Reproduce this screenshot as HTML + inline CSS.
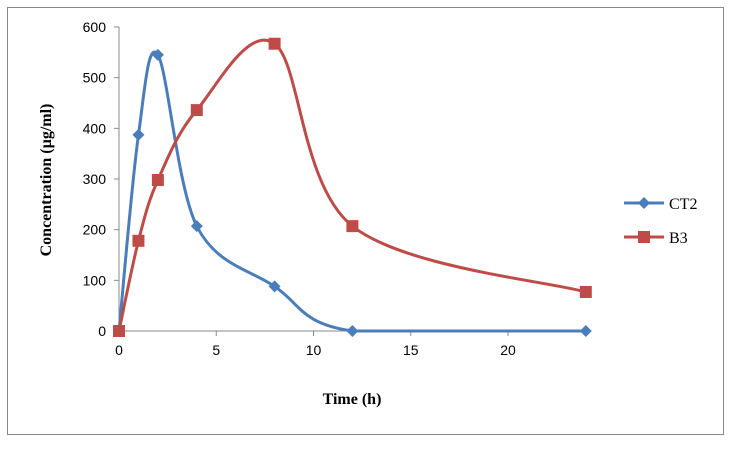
<!DOCTYPE html>
<html><head><meta charset="utf-8"><style>
body{margin:0;background:#fff;}
svg text{font-family:"Liberation Sans",sans-serif;}
</style></head><body>
<svg width="733" height="444">
<rect x="7.5" y="7.5" width="716" height="427" fill="#fff" stroke="#888"/>
<g id="axes"></g>
<g id="series"></g>
<text x="352" y="404" text-anchor="middle" font-size="16" font-weight="bold" style="font-family:'Liberation Serif',serif">Time (h)</text>
<text transform="translate(51,180) rotate(-90)" text-anchor="middle" font-size="16" font-weight="bold" style="font-family:'Liberation Serif',serif">Concentration (µg/ml)</text>
<g>
<g><line x1="624" y1="203" x2="664" y2="203" stroke="#4A7EBB" stroke-width="3"/><path d="M644 197 L650 203 L644 209 L638 203Z" fill="#4A7EBB"/><text x="669" y="209" font-size="16" style="font-family:'Liberation Serif',serif">CT2</text></g>
<g><line x1="624" y1="237" x2="664" y2="237" stroke="#BE4B48" stroke-width="3"/><rect x="638" y="231" width="12" height="12" fill="#BE4B48"/><text x="669" y="243" font-size="16" style="font-family:'Liberation Serif',serif">B3</text></g>
</g>
</svg>
<script>
const times=[0,1,2,4,8,12,24];
const ct2=[0,387,545,207,88,0,0];
const b3=[0,178,298,436,567,207,77];
const xTicks=[0,5,10,15,20];
const yTicks=[0,100,200,300,400,500,600];
const NS="http://www.w3.org/2000/svg";
const X=v=>119+v*19.45, Y=v=>331-v*(304/600);
const axes=document.getElementById('axes'), ser=document.getElementById('series');
function mk(t,a,p){const e=document.createElementNS(NS,t);for(const k in a)e.setAttribute(k,a[k]);p.appendChild(e);return e;}
const ya=mk('line',{x1:119,y1:27,x2:119,y2:331,stroke:'#888'},axes);


const xa=mk('line',{x1:119,y1:331,x2:590,y2:331,stroke:'#888'},axes);


yTicks.forEach(v=>{mk('line',{x1:114,y1:Y(v),x2:119,y2:Y(v),stroke:'#888'},axes);
const t=mk('text',{x:106,y:Y(v)+5,'text-anchor':'end','font-size':14},axes);t.textContent=v;

});
xTicks.forEach(v=>{mk('line',{x1:X(v),y1:331,x2:X(v),y2:336,stroke:'#888'},axes);
const t=mk('text',{x:X(v),y:355,'text-anchor':'middle','font-size':14},axes);t.textContent=v;

});
function path(vals){const p=times.map((t,i)=>[X(t),Y(vals[i])]);let d=`M${p[0][0]},${p[0][1]}`;const k=0.5/3*2;
for(let i=0;i<p.length-1;i++){const p0=p[i-1]||p[i],p1=p[i],p2=p[i+1],p3=p[i+2]||p2;
let c1=[p1[0]+(p2[0]-p0[0])*k/2,p1[1]+(p2[1]-p0[1])*k/2],c2=[p2[0]-(p3[0]-p1[0])*k/2,p2[1]-(p3[1]-p1[1])*k/2];
if(p1[1]===p2[1]){c1[1]=Math.min(c1[1],p1[1]);c2[1]=p2[1];}
d+=` C${c1[0]},${c1[1]} ${c2[0]},${c2[1]} ${p2[0]},${p2[1]}`;}return d;}
const l1=mk('path',{d:path(ct2),fill:'none',stroke:'#4A7EBB','stroke-width':3},ser);


const l2=mk('path',{d:path(b3),fill:'none',stroke:'#BE4B48','stroke-width':3},ser);


times.forEach((t,i)=>{const x=X(t),y=Y(ct2[i]);
const m=mk('path',{d:`M${x} ${y-6}L${x+6} ${y}L${x} ${y+6}L${x-6} ${y}Z`,fill:'#4A7EBB'},ser);

});
times.forEach((t,i)=>{const x=X(t),y=Y(b3[i]);
const m=mk('rect',{x:x-6,y:y-6,width:12,height:12,fill:'#BE4B48'},ser);

});
</script>
</body></html>
